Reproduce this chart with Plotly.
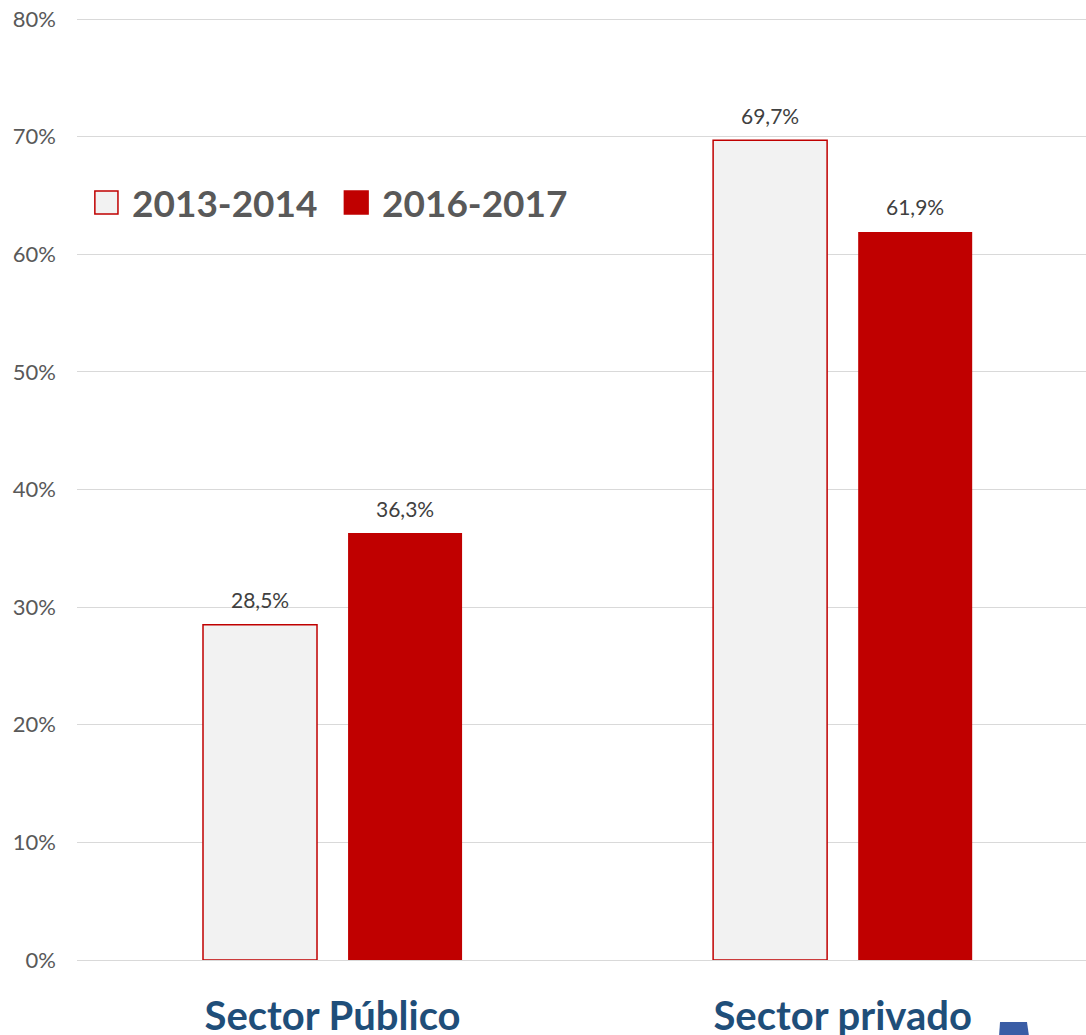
import plotly.graph_objects as go

categories = ["Sector Público", "Sector privado"]
series_names = ["2013-2014", "2016-2017"]
values_2013 = [28.5, 69.7]
values_2016 = [36.3, 61.9]
y_ticks = [0, 10, 20, 30, 40, 50, 60, 70, 80]

RED = "#c00000"
LIGHT = "#f2f2f2"
GREY_TXT = "#595959"
BLUE_TXT = "#1f4e79"
FONT = "Lato"

BAR_W = 0.2235
OFFSETS = [-0.254, 0.0304]

# plot box: 945px tall, top headroom so the 80% gridline isn't on the clip edge
PLOT_H = 945
Y_MAX = 80 * PLOT_H / 941


def fmt(v):
    return f"{v:.1f}%".replace(".", ",")


def py(px_from_top):
    # pixel row of the page -> paper y
    return (960 - px_from_top) / PLOT_H


fig = go.Figure()
fig.add_trace(go.Bar(
    x=categories, y=values_2013, name=series_names[0],
    width=BAR_W, offset=OFFSETS[0],
    marker=dict(color=LIGHT, line=dict(color=RED, width=1.5)),
))
fig.add_trace(go.Bar(
    x=categories, y=values_2016, name=series_names[1],
    width=BAR_W, offset=OFFSETS[1],
    marker=dict(color=RED, line=dict(width=0)),
))

# data labels above bars
for vals, off in [(values_2013, OFFSETS[0]), (values_2016, OFFSETS[1])]:
    for i, v in enumerate(vals):
        fig.add_annotation(
            x=i + off + BAR_W / 2, y=v, xref="x", yref="y",
            text=fmt(v), showarrow=False, yanchor="middle", yshift=25,
            font=dict(family=FONT, size=21, color="#404040"),
        )

# legend drawn by hand (big squares like the original)
legend_items = [
    (0.0177, 0.0406, LIGHT, RED, 0.0525, series_names[0]),
    (0.265, 0.2885, RED, RED, 0.300, series_names[1]),
]
y0, y1 = py(214), py(191)
for x0, x1, fill, line, tx, label in legend_items:
    fig.add_shape(type="rect", xref="paper", yref="paper",
                  x0=x0, x1=x1, y0=y0, y1=y1,
                  fillcolor=fill, line=dict(color=line, width=1.5))
    fig.add_annotation(x=tx, y=(y0 + y1) / 2, xref="paper", yref="paper",
                       text=f"<b>{label}</b>", showarrow=False,
                       xanchor="left", yanchor="middle",
                       font=dict(family=FONT, size=37, color=GREY_TXT))

# stray blue mark at the bottom right of the original picture
fig.add_shape(type="path", xref="paper", yref="paper",
              path=f"M 0.9148,{py(1022)} L 0.9415,{py(1022)} "
                   f"L 0.9435,{py(1036)} L 0.9138,{py(1036)} Z",
              fillcolor="#3a5da5", line=dict(width=0))

fig.update_layout(
    width=1086, height=1035,
    margin=dict(l=77, r=0, t=15, b=75, autoexpand=False),
    paper_bgcolor="white", plot_bgcolor="white",
    showlegend=False,
    barmode="overlay",
    xaxis=dict(
        range=[-0.501, 1.477], showgrid=False, showline=False,
        tickvals=categories, ticktext=[f"<b>{c}</b>" for c in categories],
        tickfont=dict(family=FONT, size=40, color=BLUE_TXT),
        ticklabelstandoff=29, ticks="", automargin=False,
    ),
    yaxis=dict(
        range=[0, Y_MAX], tickvals=y_ticks,
        ticktext=[f"{t}%" for t in y_ticks],
        showgrid=True, gridcolor="#d9d9d9", gridwidth=1.3,
        zeroline=True, zerolinecolor="#d9d9d9", zerolinewidth=1.3,
        tickfont=dict(family=FONT, size=22, color=GREY_TXT),
        ticklabelstandoff=20, automargin=False,
    ),
)

# drop the page's default body margin so the figure sits at the top-left corner
fig.write_html("out.html", config={"displayModeBar": False},
               post_script="document.body.style.margin='0';")
